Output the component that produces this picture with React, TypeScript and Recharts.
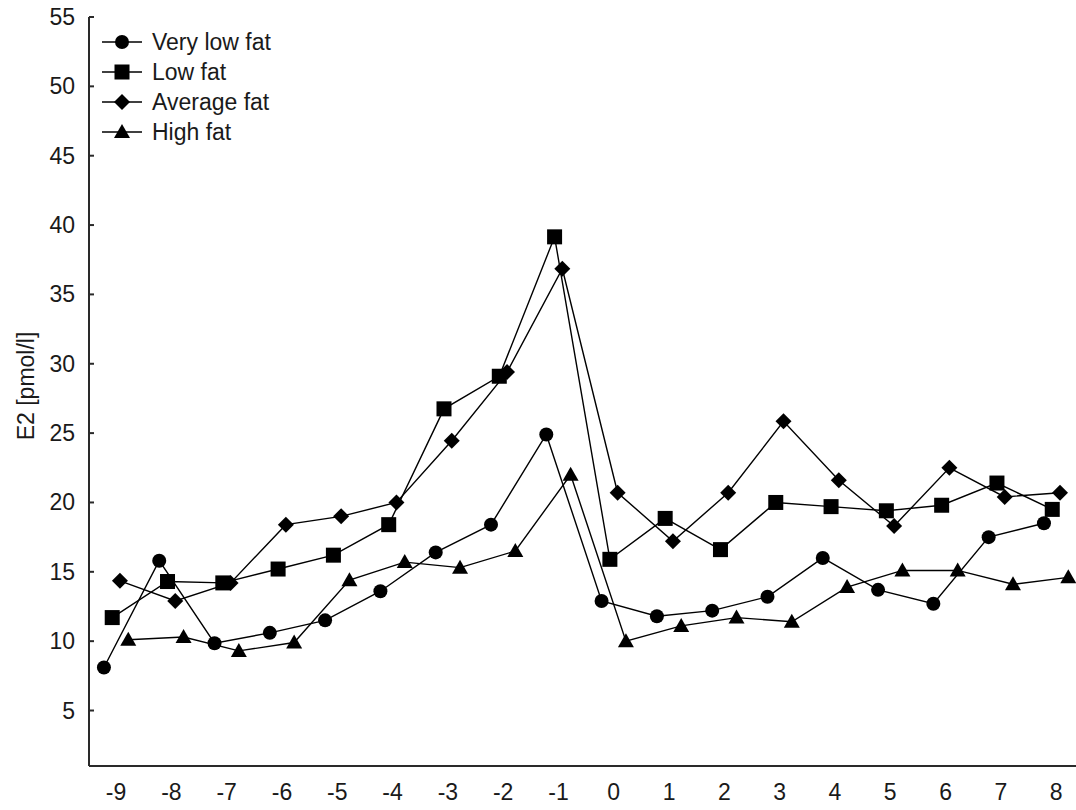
import React from "react";
import { LineChart, Line, XAxis, YAxis, Legend } from "recharts";

const days = [-9, -8, -7, -6, -5, -4, -3, -2, -1, 0, 1, 2, 3, 4, 5, 6, 7, 8];
const veryLowFat = [8.1, 15.8, 9.85, 10.6, 11.5, 13.6, 16.4, 18.4, 24.9, 12.9, 11.8, 12.2, 13.2, 16.0, 13.7, 12.7, 17.5, 18.5];
const lowFat = [11.7, 14.3, 14.2, 15.2, 16.2, 18.4, 26.75, 29.1, 39.15, 15.9, 18.85, 16.6, 20.0, 19.7, 19.4, 19.8, 21.4, 19.5];
const averageFat = [14.35, 12.9, 14.2, 18.4, 19.0, 20.0, 24.45, 29.4, 36.85, 20.7, 17.2, 20.7, 25.85, 21.6, 18.3, 22.5, 20.4, 20.7];
const highFat = [10.1, 10.3, 9.3, 9.9, 14.4, 15.7, 15.3, 16.5, 22.0, 10.0, 11.1, 11.7, 11.4, 13.9, 15.1, 15.1, 14.1, 14.6];
const yTicks = [5, 10, 15, 20, 25, 30, 35, 40, 45, 50, 55];
const seriesNames = ["Very low fat", "Low fat", "Average fat", "High fat"];
const seriesOffsets = [-0.22, -0.07, 0.07, 0.22];

const FONT = "'Liberation Sans', Arial, sans-serif";
const FS = 23;
const TXT = "#1a1a1a";
const AX = "#2a2a2a";

type Shape = "circle" | "square" | "diamond" | "triangle";
const shapes: Shape[] = ["circle", "square", "diamond", "triangle"];

function Marker({ shape, cx, cy }: { shape: Shape; cx: number; cy: number }) {
  if (shape === "circle") return <circle cx={cx} cy={cy} r={7} fill="#000" />;
  if (shape === "square") return <rect x={cx - 7.5} y={cy - 7.5} width={15} height={15} fill="#000" />;
  if (shape === "diamond")
    return <polygon points={`${cx},${cy - 8} ${cx + 8},${cy} ${cx},${cy + 8} ${cx - 8},${cy}`} fill="#000" />;
  return <polygon points={`${cx},${cy - 8} ${cx + 8},${cy + 6} ${cx - 8},${cy + 6}`} fill="#000" />;
}

const makeDot = (shape: Shape) => (props: any) => {
  const { cx, cy, index } = props;
  if (cx == null || cy == null) return <g key={`d-${index}`} />;
  return (
    <g key={`d-${shape}-${index}`}>
      <Marker shape={shape} cx={cx} cy={cy} />
    </g>
  );
};

const allValues = [veryLowFat, lowFat, averageFat, highFat];
const seriesData = allValues.map((vals, s) =>
  days.map((d, i) => ({ x: d + seriesOffsets[s], v: vals[i] }))
);

const XTick = (props: any) => {
  const { x, y, payload } = props;
  return (
    <text x={x} y={y + 34} textAnchor="middle" fontFamily={FONT} fontSize={FS} fill={TXT}>
      {payload.value}
    </text>
  );
};

const YTick = (props: any) => {
  const { x, y, payload } = props;
  return (
    <g>
      <line x1={x} x2={x + 5} y1={y} y2={y} stroke={AX} strokeWidth={2} />
      <text x={x - 14} y={y + 8} textAnchor="end" fontFamily={FONT} fontSize={FS} fill={TXT}>
        {payload.value}
      </text>
    </g>
  );
};

const LegendContent = () => {
  const rows = [42, 72, 102, 132];
  return (
    <svg width={320} height={160} style={{ display: "block" }}>
      {seriesNames.map((n, i) => (
        <g key={n}>
          <line x1={102} x2={142} y1={rows[i]} y2={rows[i]} stroke="#000" strokeWidth={1.5} />
          <Marker shape={shapes[i]} cx={122} cy={rows[i]} />
          <text x={152} y={rows[i] + 8} fontFamily={FONT} fontSize={FS} fill={TXT}>
            {n}
          </text>
        </g>
      ))}
    </svg>
  );
};

export default function App() {
  return (
    <div
      style={{
        position: "absolute",
        left: 0,
        top: 0,
        width: 1076,
        height: 810,
        overflow: "hidden",
        background: "#fff",
      }}
    >
      <LineChart width={1085} height={810} margin={{ top: 17, right: 4, bottom: 0, left: 0 }}>
        <XAxis
          type="number"
          dataKey="x"
          domain={[-9.49, 8.45]}
          ticks={days}
          tick={<XTick />}
          tickLine={false}
          tickSize={0}
          tickMargin={0}
          height={44}
          axisLine={{ stroke: AX, strokeWidth: 2 }}
          allowDataOverflow
        />
        <XAxis
          xAxisId="top"
          orientation="top"
          type="number"
          dataKey="x"
          domain={[-9.49, 8.45]}
          tick={false}
          tickLine={false}
          height={0}
          axisLine={{ stroke: AX, strokeWidth: 2 }}
          allowDataOverflow
        />
        <YAxis
          type="number"
          domain={[1, 55]}
          ticks={yTicks}
          tick={<YTick />}
          tickLine={false}
          tickSize={0}
          tickMargin={0}
          width={89}
          axisLine={{ stroke: AX, strokeWidth: 2 }}
          allowDataOverflow
          label={{
            content: () => (
              <text
                x={26}
                y={386}
                transform="rotate(-90 26 386)"
                textAnchor="middle"
                dominantBaseline="central"
                fontFamily={FONT}
                fontSize={FS}
                fill={TXT}
              >
                E2 [pmol/l]
              </text>
            ),
          }}
        />
        <Legend
          layout="vertical"
          align="center"
          verticalAlign="middle"
          content={<LegendContent />}
          wrapperStyle={{ top: 0, left: 0, width: 320, height: 160 }}
        />
        {seriesData.map((data, s) => (
          <Line
            key={seriesNames[s]}
            name={seriesNames[s]}
            data={data}
            dataKey="v"
            type="linear"
            stroke="#000"
            strokeWidth={1.4}
            dot={makeDot(shapes[s])}
            activeDot={false}
            isAnimationActive={false}
          />
        ))}
      </LineChart>
    </div>
  );
}
